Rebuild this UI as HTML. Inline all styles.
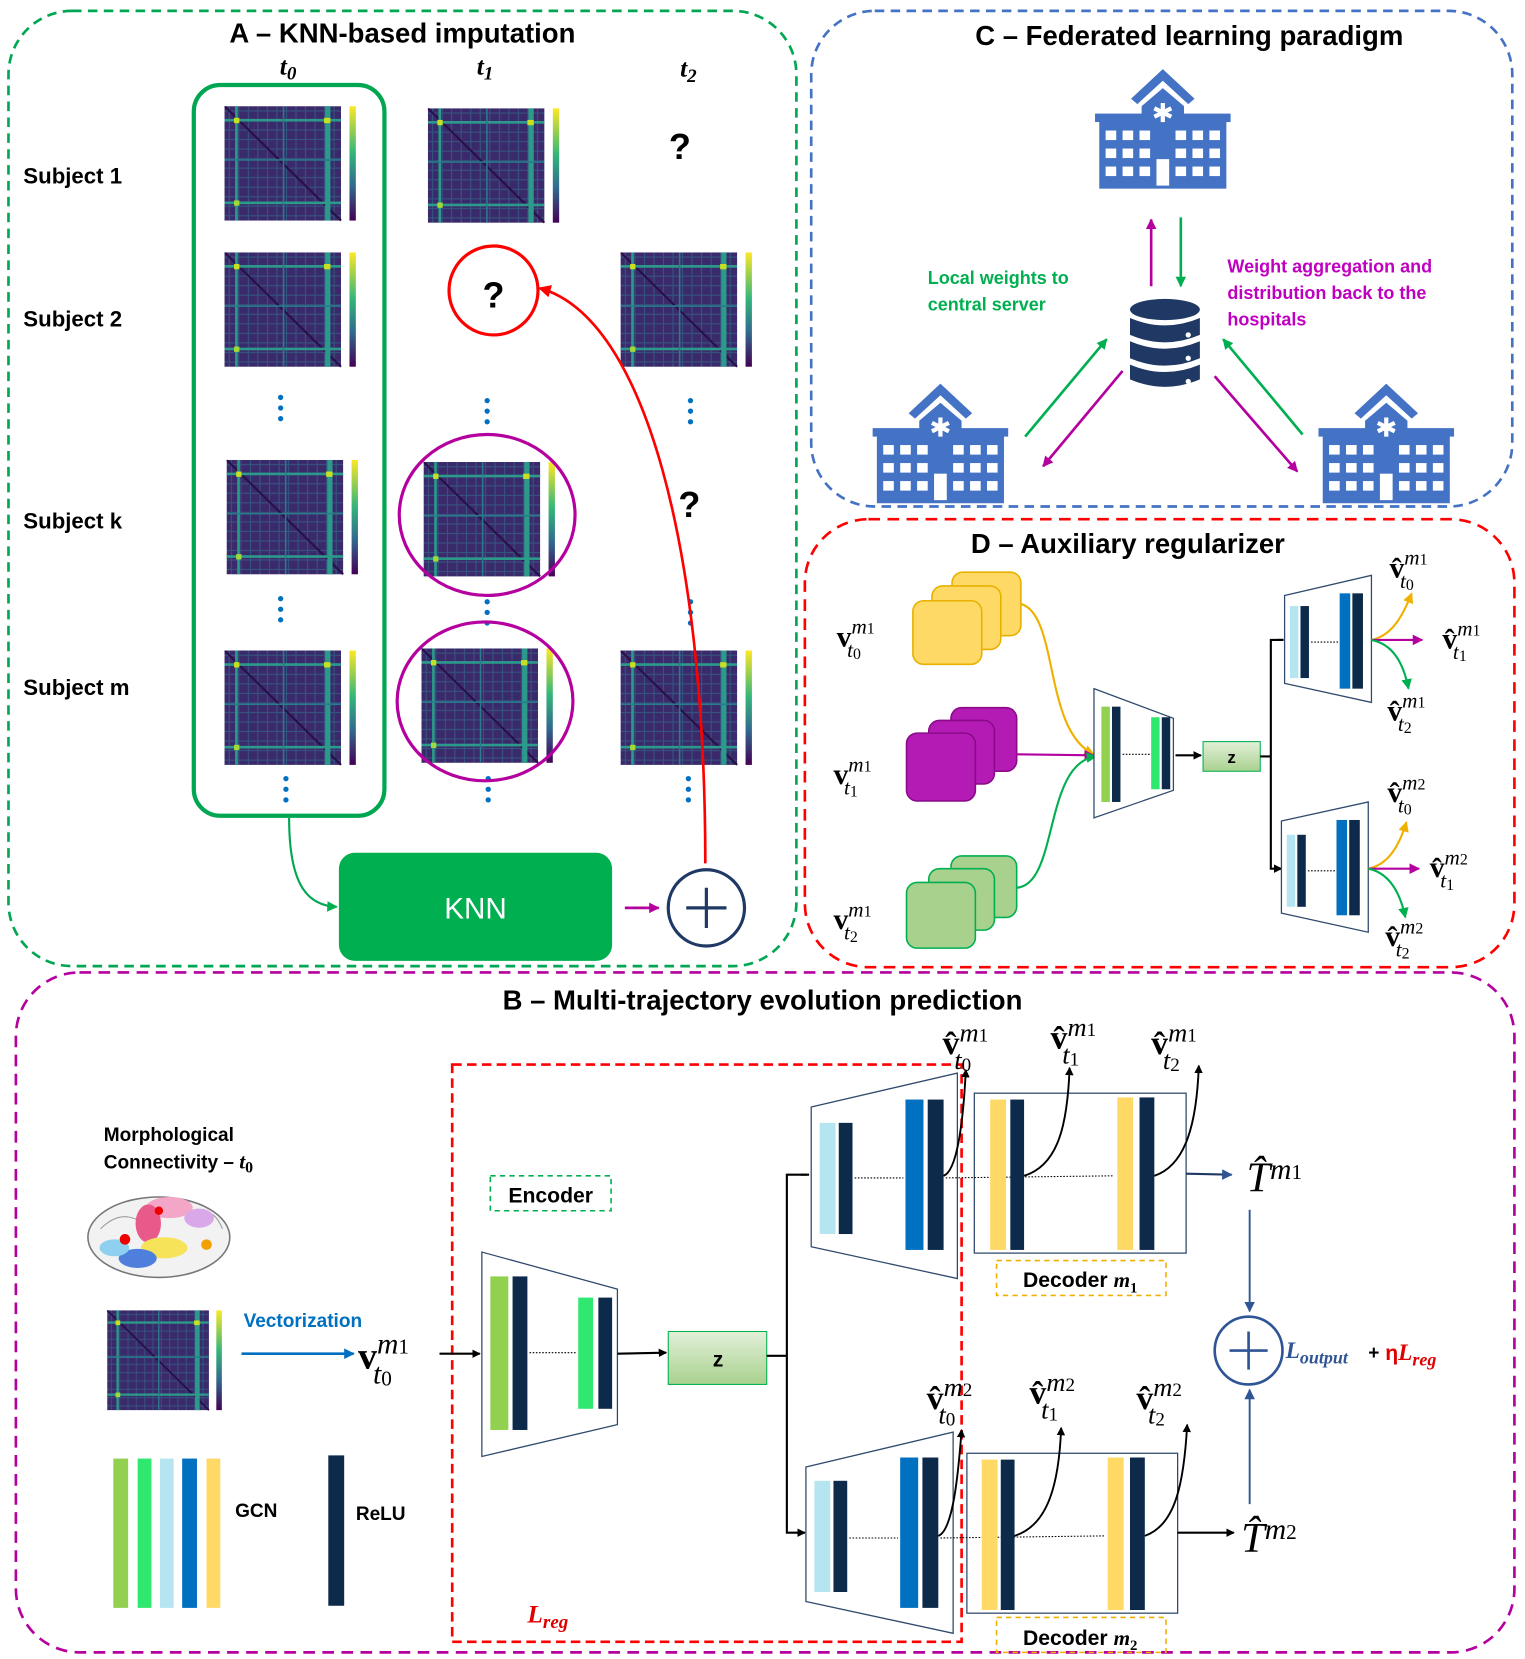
<!DOCTYPE html>
<html><head><meta charset="utf-8"><style>
html,body{margin:0;padding:0;background:#fff;}
svg{display:block;}
.t{font-family:"Liberation Sans",sans-serif;font-weight:bold;}
.m{font-family:"Liberation Serif",serif;}
</style></head><body>
<svg width="1525" height="1659" viewBox="0 0 1440 1566" xmlns="http://www.w3.org/2000/svg">
<defs>
<linearGradient id="vir" x1="0" y1="1" x2="0" y2="0">
<stop offset="0" stop-color="#440154"/><stop offset="0.3" stop-color="#31688e"/><stop offset="0.6" stop-color="#35b779"/><stop offset="1" stop-color="#fde725"/></linearGradient>
<linearGradient id="zg" x1="0" y1="0" x2="0" y2="1"><stop offset="0" stop-color="#e2f0d9"/><stop offset="1" stop-color="#a9d18e"/></linearGradient>
<pattern id="grid" width="9" height="9" patternUnits="userSpaceOnUse">
<rect width="9" height="9" fill="#3b2a6b"/><rect x="0" y="4" width="9" height="1" fill="#34557f"/><rect x="4" y="0" width="1" height="9" fill="#34557f"/></pattern>
<symbol id="hm" viewBox="0 0 130 110">
<rect x="0" y="0" width="110" height="108" fill="url(#grid)"/>
<line x1="0" y1="0" x2="110" y2="108" stroke="#2a0f4a" stroke-width="2"/>
<rect x="0" y="12" width="110" height="2.5" fill="#2c9a8a"/>
<rect x="10" y="0" width="2.5" height="108" fill="#2c9a8a"/>
<rect x="0" y="90" width="110" height="2.5" fill="#2c9a8a"/>
<rect x="95" y="0" width="5" height="108" fill="#2c9a8a"/>
<rect x="0" y="50" width="110" height="1.5" fill="#2a7a8c"/>
<rect x="55" y="0" width="1.5" height="108" fill="#2a7a8c"/>
<rect x="9" y="11" width="5" height="5" fill="#c8e020"/><rect x="94" y="11" width="6" height="5" fill="#c8e020"/><rect x="9" y="89" width="5" height="5" fill="#a0da39"/>
<rect x="118" y="0" width="6" height="108" fill="url(#vir)"/>
</symbol>
<symbol id="hosp" viewBox="0 0 132 113">
<polygon points="66,0 96,28 90,33 66,11 42,33 36,28" fill="#4472c4"/>
<polygon points="46,35 66,18 86,35 86,50 46,50" fill="#4472c4"/>
<rect x="2" y="42" width="128" height="8" fill="#4472c4"/>
<rect x="6" y="48" width="120" height="65" fill="#4472c4"/>
<g fill="#fff">
<rect x="12" y="58" width="10" height="9"/><rect x="28" y="58" width="10" height="9"/><rect x="44" y="58" width="10" height="9"/>
<rect x="78" y="58" width="10" height="9"/><rect x="94" y="58" width="10" height="9"/><rect x="110" y="58" width="10" height="9"/>
<rect x="12" y="75" width="10" height="9"/><rect x="28" y="75" width="10" height="9"/><rect x="44" y="75" width="10" height="9"/>
<rect x="78" y="75" width="10" height="9"/><rect x="94" y="75" width="10" height="9"/><rect x="110" y="75" width="10" height="9"/>
<rect x="12" y="92" width="10" height="9"/><rect x="28" y="92" width="10" height="9"/><rect x="44" y="92" width="10" height="9"/>
<rect x="78" y="92" width="10" height="9"/><rect x="94" y="92" width="10" height="9"/><rect x="110" y="92" width="10" height="9"/>
<rect x="60" y="85" width="12" height="25"/>
<path d="M66,32 v18 M58,37 l16,8 M74,37 l-16,8" stroke="#fff" stroke-width="4"/>
</g>
</symbol>
<marker id="ak" markerWidth="8" markerHeight="8" refX="7" refY="4" orient="auto" markerUnits="userSpaceOnUse"><path d="M0,0 L8,4 L0,8z" fill="#000"/></marker>
<marker id="ag" markerWidth="10" markerHeight="10" refX="9" refY="5" orient="auto" markerUnits="userSpaceOnUse"><path d="M0,0 L10,5 L0,10z" fill="#00b050"/></marker>
<marker id="ap" markerWidth="10" markerHeight="10" refX="9" refY="5" orient="auto" markerUnits="userSpaceOnUse"><path d="M0,0 L10,5 L0,10z" fill="#b4009e"/></marker>
<marker id="ar" markerWidth="12" markerHeight="12" refX="10" refY="6" orient="auto" markerUnits="userSpaceOnUse"><path d="M0,0 L12,6 L0,12z" fill="#f00"/></marker>
<marker id="ay" markerWidth="10" markerHeight="10" refX="9" refY="5" orient="auto" markerUnits="userSpaceOnUse"><path d="M0,0 L10,5 L0,10z" fill="#f0b000"/></marker>
<marker id="ab" markerWidth="10" markerHeight="10" refX="9" refY="5" orient="auto" markerUnits="userSpaceOnUse"><path d="M0,0 L10,5 L0,10z" fill="#0070c0"/></marker>
<marker id="an" markerWidth="10" markerHeight="10" refX="9" refY="5" orient="auto" markerUnits="userSpaceOnUse"><path d="M0,0 L10,5 L0,10z" fill="#2f5597"/></marker>
</defs>

<!-- Panel A -->
<rect x="8" y="10" width="744" height="902" rx="60" fill="none" stroke="#00a651" stroke-width="2.5" stroke-dasharray="9,6"/>
<text x="380" y="40" class="t" font-size="26" text-anchor="middle">A – KNN-based imputation</text>
<g class="m" font-size="24" font-weight="bold" font-style="italic" text-anchor="middle">
<text x="272" y="70">t<tspan font-size="18" dy="5">0</tspan></text>
<text x="458" y="70">t<tspan font-size="18" dy="5">1</tspan></text>
<text x="650" y="72">t<tspan font-size="18" dy="5">2</tspan></text>
</g>
<rect x="183" y="80" width="180" height="690" rx="25" fill="none" stroke="#00a651" stroke-width="4"/>
<g class="t" font-size="21">
<text x="22" y="173">Subject 1</text><text x="22" y="308">Subject 2</text>
<text x="22" y="499">Subject k</text><text x="22" y="656">Subject m</text>
</g>
<use href="#hm" x="212" y="100" width="130" height="110"/>
<use href="#hm" x="404" y="102" width="130" height="110"/>
<use href="#hm" x="212" y="238" width="130" height="110"/>
<use href="#hm" x="586" y="238" width="130" height="110"/>
<use href="#hm" x="214" y="434" width="130" height="110"/>
<use href="#hm" x="400" y="436" width="130" height="110"/>
<use href="#hm" x="212" y="614" width="130" height="110"/>
<use href="#hm" x="398" y="612" width="130" height="110"/>
<use href="#hm" x="586" y="614" width="130" height="110"/>
<g fill="#0070c0">
<circle cx="265" cy="375" r="2.5"/><circle cx="265" cy="385" r="2.5"/><circle cx="265" cy="395" r="2.5"/>
<circle cx="460" cy="378" r="2.5"/><circle cx="460" cy="388" r="2.5"/><circle cx="460" cy="398" r="2.5"/>
<circle cx="652" cy="378" r="2.5"/><circle cx="652" cy="388" r="2.5"/><circle cx="652" cy="398" r="2.5"/>
<circle cx="265" cy="565" r="2.5"/><circle cx="265" cy="575" r="2.5"/><circle cx="265" cy="585" r="2.5"/>
<circle cx="460" cy="568" r="2.5"/><circle cx="460" cy="578" r="2.5"/><circle cx="460" cy="588" r="2.5"/>
<circle cx="652" cy="568" r="2.5"/><circle cx="652" cy="578" r="2.5"/><circle cx="652" cy="588" r="2.5"/>
<circle cx="270" cy="735" r="2.5"/><circle cx="270" cy="745" r="2.5"/><circle cx="270" cy="755" r="2.5"/>
<circle cx="461" cy="735" r="2.5"/><circle cx="461" cy="745" r="2.5"/><circle cx="461" cy="755" r="2.5"/>
<circle cx="650" cy="735" r="2.5"/><circle cx="650" cy="745" r="2.5"/><circle cx="650" cy="755" r="2.5"/>
</g>
<g class="t" font-size="34" text-anchor="middle">
<text x="642" y="150">?</text><text x="466" y="290">?</text><text x="651" y="488">?</text></g>
<circle cx="466" cy="274" r="42" fill="none" stroke="#f00" stroke-width="3"/>
<ellipse cx="460" cy="486" rx="83" ry="76" fill="none" stroke="#b4009e" stroke-width="3"/>
<ellipse cx="458" cy="662" rx="83" ry="75" fill="none" stroke="#b4009e" stroke-width="3"/>
<rect x="320" y="805" width="258" height="102" rx="15" fill="#00b050"/>
<text x="449" y="867" font-family="Liberation Sans,sans-serif" font-size="28" fill="#fff" text-anchor="middle">KNN</text>
<line x1="590" y1="857" x2="622" y2="857" stroke="#b4009e" stroke-width="2.5" marker-end="url(#ap)"/>
<circle cx="667" cy="857" r="36" fill="#fff" stroke="#1f3864" stroke-width="3"/>
<path d="M667,838 v38 M648,857 h38" stroke="#1f3864" stroke-width="3"/>
<path d="M666,815 C666,520 610,300 510,272" fill="none" stroke="#f00" stroke-width="2.5" marker-end="url(#ar)"/>
<path d="M273,772 C273,835 290,855 318,856" fill="none" stroke="#00a651" stroke-width="2" marker-end="url(#ag)"/>

<!-- Panel C -->
<rect x="766" y="10" width="662" height="468" rx="60" fill="none" stroke="#4472c4" stroke-width="2.5" stroke-dasharray="9,6"/>
<text x="1123" y="42" class="t" font-size="26" text-anchor="middle">C – Federated learning paradigm</text>
<use href="#hosp" x="1032" y="65" width="132" height="113"/>
<use href="#hosp" x="822" y="362" width="132" height="113"/>
<use href="#hosp" x="1243" y="362" width="132" height="113"/>
<g fill="#1f3864">
<ellipse cx="1100" cy="292" rx="33" ry="10"/>
<path d="M1067,300 q33,14 66,0 v16 q-33,14 -66,0z"/>
<path d="M1067,322 q33,14 66,0 v16 q-33,14 -66,0z"/>
<path d="M1067,344 q33,14 66,0 v14 q-33,14 -66,0z"/>
</g>
<g fill="#fff"><circle cx="1122" cy="316" r="2.5"/><circle cx="1122" cy="338" r="2.5"/><circle cx="1122" cy="360" r="2.5"/></g>
<line x1="1087" y1="270" x2="1087" y2="207" stroke="#b4009e" stroke-width="2.5" marker-end="url(#ap)"/>
<line x1="1115" y1="205" x2="1115" y2="270" stroke="#00b050" stroke-width="2.5" marker-end="url(#ag)"/>
<line x1="968" y1="412" x2="1045" y2="320" stroke="#00b050" stroke-width="2.5" marker-end="url(#ag)"/>
<line x1="1060" y1="350" x2="985" y2="440" stroke="#b4009e" stroke-width="2.5" marker-end="url(#ap)"/>
<line x1="1230" y1="410" x2="1155" y2="320" stroke="#00b050" stroke-width="2.5" marker-end="url(#ag)"/>
<line x1="1147" y1="355" x2="1225" y2="445" stroke="#b4009e" stroke-width="2.5" marker-end="url(#ap)"/>
<g class="t" font-size="17" fill="#00b050"><text x="876" y="268">Local weights to</text><text x="876" y="293">central server</text></g>
<g class="t" font-size="17" fill="#c000c0"><text x="1159" y="257">Weight aggregation and</text><text x="1159" y="282">distribution back to the</text><text x="1159" y="307">hospitals</text></g>

<!-- Panel D -->
<rect x="760" y="490" width="670" height="423" rx="60" fill="none" stroke="#f00" stroke-width="2.5" stroke-dasharray="11,7"/>
<text x="1065" y="522" class="t" font-size="26" text-anchor="middle">D – Auxiliary regularizer</text>
<g stroke-width="1.5">
<rect x="899" y="540" width="65" height="60" rx="10" fill="#ffd966" stroke="#e8b100"/>
<rect x="880" y="553" width="65" height="60" rx="10" fill="#ffd966" stroke="#e8b100"/>
<rect x="862" y="567" width="65" height="60" rx="10" fill="#ffd966" stroke="#e8b100"/>
<rect x="898" y="668" width="62" height="60" rx="10" fill="#b41bb4" stroke="#8a0a8a"/>
<rect x="877" y="680" width="62" height="60" rx="10" fill="#b41bb4" stroke="#8a0a8a"/>
<rect x="856" y="692" width="65" height="64" rx="10" fill="#b41bb4" stroke="#8a0a8a"/>
<rect x="898" y="808" width="62" height="58" rx="10" fill="#a9d18e" stroke="#00b050"/>
<rect x="877" y="820" width="62" height="58" rx="10" fill="#a9d18e" stroke="#00b050"/>
<rect x="856" y="833" width="65" height="62" rx="10" fill="#a9d18e" stroke="#00b050"/>
</g>
<path d="M964,570 C1000,580 985,690 1033,712" fill="none" stroke="#f0b000" stroke-width="2" marker-end="url(#ay)"/>
<line x1="960" y1="712" x2="1033" y2="713" stroke="#b4009e" stroke-width="2" marker-end="url(#ap)"/>
<path d="M960,838 C1000,835 985,720 1035,714" fill="none" stroke="#00b050" stroke-width="2" marker-end="url(#ag)"/>
<polygon points="1033,650 1108,678 1108,746 1033,772" fill="#fff" stroke="#2f4a6e" stroke-width="1.2"/>
<rect x="1040" y="667" width="8" height="90" fill="#92d050"/><rect x="1050" y="667" width="8" height="90" fill="#0d2a4a"/>
<line x1="1060" y1="712" x2="1086" y2="712" stroke="#000" stroke-dasharray="1.5,1.5"/>
<rect x="1087" y="677" width="8" height="68" fill="#2ee86f"/><rect x="1097" y="677" width="8" height="68" fill="#0d2a4a"/>
<line x1="1110" y1="713" x2="1134" y2="713" stroke="#000" stroke-width="2" marker-end="url(#ak)"/>
<rect x="1136" y="700" width="54" height="28" fill="url(#zg)" stroke="#00b050"/>
<text x="1163" y="720" class="t" font-size="16" text-anchor="middle">z</text>
<path d="M1190,714 H1200 V604 H1212 M1200,714 V820 H1210" fill="none" stroke="#000" stroke-width="2"/>
<path d="M1206,604 h6 M1204,820 h6" stroke="#000" stroke-width="2" marker-end="url(#ak)"/>
<polygon points="1213,562 1295,543 1295,663 1213,645" fill="#fff" stroke="#2f4a6e" stroke-width="1.2"/>
<rect x="1218" y="572" width="8" height="68" fill="#b4e5f0"/><rect x="1228" y="572" width="8" height="68" fill="#0d2a4a"/>
<line x1="1238" y1="606" x2="1264" y2="606" stroke="#000" stroke-dasharray="1.5,1.5"/>
<rect x="1265" y="560" width="10" height="90" fill="#0070c0"/><rect x="1277" y="560" width="10" height="90" fill="#0d2a4a"/>
<polygon points="1210,775 1292,757 1292,880 1210,862" fill="#fff" stroke="#2f4a6e" stroke-width="1.2"/>
<rect x="1215" y="788" width="8" height="68" fill="#b4e5f0"/><rect x="1225" y="788" width="8" height="68" fill="#0d2a4a"/>
<line x1="1235" y1="822" x2="1261" y2="822" stroke="#000" stroke-dasharray="1.5,1.5"/>
<rect x="1262" y="774" width="10" height="90" fill="#0070c0"/><rect x="1274" y="774" width="10" height="90" fill="#0d2a4a"/>
<path d="M1295,604 C1315,600 1325,580 1333,560" fill="none" stroke="#f0b000" stroke-width="2" marker-end="url(#ay)"/>
<line x1="1295" y1="604" x2="1343" y2="604" stroke="#b4009e" stroke-width="2" marker-end="url(#ap)"/>
<path d="M1295,604 C1315,608 1325,625 1330,650" fill="none" stroke="#00b050" stroke-width="2" marker-end="url(#ag)"/>
<path d="M1292,820 C1312,816 1322,796 1328,776" fill="none" stroke="#f0b000" stroke-width="2" marker-end="url(#ay)"/>
<line x1="1292" y1="820" x2="1340" y2="820" stroke="#b4009e" stroke-width="2" marker-end="url(#ap)"/>
<path d="M1292,820 C1312,824 1322,842 1327,866" fill="none" stroke="#00b050" stroke-width="2" marker-end="url(#ag)"/>
<g class="m" font-size="28" font-weight="bold">
<text x="790" y="610">v<tspan font-size="20" font-weight="normal" font-style="italic" dy="-12">m</tspan><tspan font-size="15" font-weight="normal" dy="0">1</tspan><tspan font-size="20" font-weight="normal" font-style="italic" dx="-26" dy="22">t</tspan><tspan font-size="15" font-weight="normal" dy="2">0</tspan></text>
<text x="787" y="740">v<tspan font-size="20" font-weight="normal" font-style="italic" dy="-12">m</tspan><tspan font-size="15" font-weight="normal">1</tspan><tspan font-size="20" font-weight="normal" font-style="italic" dx="-26" dy="22">t</tspan><tspan font-size="15" font-weight="normal" dy="2">1</tspan></text>
<text x="787" y="877">v<tspan font-size="20" font-weight="normal" font-style="italic" dy="-12">m</tspan><tspan font-size="15" font-weight="normal">1</tspan><tspan font-size="20" font-weight="normal" font-style="italic" dx="-26" dy="22">t</tspan><tspan font-size="15" font-weight="normal" dy="2">2</tspan></text>
<text x="1312" y="545">v̂<tspan font-size="20" font-weight="normal" font-style="italic" dy="-12">m</tspan><tspan font-size="15" font-weight="normal">1</tspan><tspan font-size="20" font-weight="normal" font-style="italic" dx="-26" dy="22">t</tspan><tspan font-size="15" font-weight="normal" dy="2">0</tspan></text>
<text x="1362" y="612">v̂<tspan font-size="20" font-weight="normal" font-style="italic" dy="-12">m</tspan><tspan font-size="15" font-weight="normal">1</tspan><tspan font-size="20" font-weight="normal" font-style="italic" dx="-26" dy="22">t</tspan><tspan font-size="15" font-weight="normal" dy="2">1</tspan></text>
<text x="1310" y="680">v̂<tspan font-size="20" font-weight="normal" font-style="italic" dy="-12">m</tspan><tspan font-size="15" font-weight="normal">1</tspan><tspan font-size="20" font-weight="normal" font-style="italic" dx="-26" dy="22">t</tspan><tspan font-size="15" font-weight="normal" dy="2">2</tspan></text>
<text x="1310" y="757">v̂<tspan font-size="20" font-weight="normal" font-style="italic" dy="-12">m</tspan><tspan font-size="15" font-weight="normal">2</tspan><tspan font-size="20" font-weight="normal" font-style="italic" dx="-26" dy="22">t</tspan><tspan font-size="15" font-weight="normal" dy="2">0</tspan></text>
<text x="1350" y="828">v̂<tspan font-size="20" font-weight="normal" font-style="italic" dy="-12">m</tspan><tspan font-size="15" font-weight="normal">2</tspan><tspan font-size="20" font-weight="normal" font-style="italic" dx="-26" dy="22">t</tspan><tspan font-size="15" font-weight="normal" dy="2">1</tspan></text>
<text x="1308" y="893">v̂<tspan font-size="20" font-weight="normal" font-style="italic" dy="-12">m</tspan><tspan font-size="15" font-weight="normal">2</tspan><tspan font-size="20" font-weight="normal" font-style="italic" dx="-26" dy="22">t</tspan><tspan font-size="15" font-weight="normal" dy="2">2</tspan></text>
</g>

<!-- Panel B -->
<rect x="15" y="918" width="1415" height="642" rx="60" fill="none" stroke="#b4009e" stroke-width="2.5" stroke-dasharray="11,7"/>
<text x="720" y="953" class="t" font-size="26" text-anchor="middle">B – Multi-trajectory evolution prediction</text>
<rect x="427" y="1005" width="481" height="545" fill="none" stroke="#f00" stroke-width="2.5" stroke-dasharray="9,5"/>
<rect x="463" y="1110" width="114" height="33" fill="none" stroke="#00b050" stroke-width="1.5" stroke-dasharray="5,4"/>
<text x="520" y="1135" class="t" font-size="20" text-anchor="middle">Encoder</text>
<g class="t" font-size="18"><text x="98" y="1077">Morphological</text><text x="98" y="1103">Connectivity – <tspan class="m" font-style="italic" font-size="20">t</tspan><tspan class="m" font-size="15" dy="4">0</tspan></text></g>
<!-- brain -->
<g>
<ellipse cx="150" cy="1168" rx="67" ry="38" fill="#f2f2f2" stroke="#777" stroke-width="1.5"/>
<path d="M95,1160 q20,-20 40,-5 q20,-25 45,-5 q20,-15 30,10" fill="none" stroke="#999"/>
<ellipse cx="160" cy="1140" rx="22" ry="10" fill="#f4a6c8"/>
<ellipse cx="140" cy="1155" rx="12" ry="18" fill="#e85a8a"/>
<ellipse cx="155" cy="1178" rx="22" ry="10" fill="#f6e35a"/>
<ellipse cx="130" cy="1188" rx="18" ry="9" fill="#4f7fdc"/>
<ellipse cx="108" cy="1178" rx="14" ry="8" fill="#8fd0f0"/>
<ellipse cx="188" cy="1150" rx="14" ry="9" fill="#d8a8e8"/>
<circle cx="118" cy="1170" r="5" fill="#e00"/><circle cx="150" cy="1143" r="4" fill="#e00"/>
<circle cx="195" cy="1175" r="5" fill="#f0a000"/>
</g>
<use href="#hm" x="98" y="1237" width="120" height="96"/>
<text x="230" y="1253" class="t" font-size="18" fill="#0070c0">Vectorization</text>
<line x1="228" y1="1278" x2="334" y2="1278" stroke="#0070c0" stroke-width="2.5" marker-end="url(#ab)"/>
<text x="338" y="1292" class="m" font-size="36" font-weight="bold">v<tspan font-size="28" font-weight="normal" font-style="italic" dy="-14">m</tspan><tspan font-size="20" font-weight="normal">1</tspan><tspan font-size="28" font-weight="normal" font-style="italic" dx="-34" dy="28">t</tspan><tspan font-size="20" font-weight="normal" dy="2">0</tspan></text>
<line x1="415" y1="1278" x2="453" y2="1278" stroke="#000" stroke-width="2" marker-end="url(#ak)"/>
<rect x="107" y="1377" width="14" height="141" fill="#92d050"/>
<rect x="130" y="1377" width="13" height="141" fill="#2ee86f"/>
<rect x="151" y="1377" width="13" height="141" fill="#b4e5f0"/>
<rect x="172" y="1377" width="14" height="141" fill="#0070c0"/>
<rect x="195" y="1377" width="13" height="141" fill="#ffd966"/>
<text x="222" y="1432" class="t" font-size="18">GCN</text>
<rect x="310" y="1374" width="15" height="142" fill="#0d2a4a"/>
<text x="336" y="1435" class="t" font-size="18">ReLU</text>
<text x="498" y="1532" class="m" font-size="24" font-weight="bold" font-style="italic" fill="#e00000">L<tspan font-size="18" dy="5">reg</tspan></text>
<!-- encoder -->
<polygon points="455,1182 583,1217 583,1345 455,1375" fill="#fff" stroke="#2f4a6e" stroke-width="1.2"/>
<rect x="463" y="1205" width="17" height="145" fill="#92d050"/><rect x="484" y="1205" width="14" height="145" fill="#0d2a4a"/>
<line x1="500" y1="1277" x2="544" y2="1277" stroke="#000" stroke-dasharray="1.5,1.5"/>
<rect x="546" y="1225" width="14" height="105" fill="#2ee86f"/><rect x="565" y="1225" width="13" height="105" fill="#0d2a4a"/>
<line x1="583" y1="1278" x2="629" y2="1277" stroke="#000" stroke-width="2" marker-end="url(#ak)"/>
<rect x="631" y="1257" width="93" height="50" fill="url(#zg)" stroke="#00b050"/>
<text x="678" y="1290" class="t" font-size="20" text-anchor="middle">z</text>
<path d="M724,1280 H743 V1109 H762 M743,1280 V1447 H758" fill="none" stroke="#000" stroke-width="2"/>
<path d="M756,1109 h8 M752,1447 h8" stroke="#000" stroke-width="2" marker-end="url(#ak)"/>
<!-- decoder 1 -->
<polygon points="766,1045 904,1013 904,1207 766,1177" fill="#fff" stroke="#2f4a6e" stroke-width="1.2"/>
<rect x="774" y="1060" width="15" height="105" fill="#b4e5f0"/><rect x="792" y="1060" width="13" height="105" fill="#0d2a4a"/>
<line x1="807" y1="1112" x2="853" y2="1112" stroke="#000" stroke-dasharray="1.5,1.5"/>
<rect x="855" y="1038" width="17" height="142" fill="#0070c0"/><rect x="876" y="1038" width="15" height="142" fill="#0d2a4a"/>
<rect x="920" y="1032" width="200" height="151" fill="#fff" stroke="#2f4a6e" stroke-width="1.2"/>
<line x1="893" y1="1112" x2="1052" y2="1110" stroke="#000" stroke-dasharray="1.5,1.5"/>
<rect x="935" y="1038" width="15" height="142" fill="#ffd966"/><rect x="954" y="1038" width="13" height="142" fill="#0d2a4a"/>
<rect x="1055" y="1036" width="15" height="144" fill="#ffd966"/><rect x="1076" y="1036" width="14" height="144" fill="#0d2a4a"/>
<path d="M891,1110 C905,1105 910,1050 912,1010" fill="none" stroke="#000" stroke-width="1.8" marker-end="url(#ak)"/>
<path d="M967,1110 C1000,1100 1008,1060 1010,1008" fill="none" stroke="#000" stroke-width="1.8" marker-end="url(#ak)"/>
<path d="M1090,1110 C1120,1100 1130,1060 1132,1006" fill="none" stroke="#000" stroke-width="1.8" marker-end="url(#ak)"/>
<line x1="1120" y1="1108" x2="1163" y2="1109" stroke="#1f3864" stroke-width="2" marker-end="url(#an)"/>
<rect x="941" y="1190" width="160" height="33" fill="none" stroke="#f0b000" stroke-width="1.5" stroke-dasharray="5,4"/>
<text x="1020" y="1215" class="t" font-size="20" text-anchor="middle">Decoder <tspan class="m" font-style="italic">m</tspan><tspan class="m" font-size="14" dy="5">1</tspan></text>
<!-- decoder 2 -->
<polygon points="761,1385 900,1352 900,1542 761,1512" fill="#fff" stroke="#2f4a6e" stroke-width="1.2"/>
<rect x="769" y="1398" width="15" height="105" fill="#b4e5f0"/><rect x="787" y="1398" width="13" height="105" fill="#0d2a4a"/>
<line x1="802" y1="1452" x2="848" y2="1452" stroke="#000" stroke-dasharray="1.5,1.5"/>
<rect x="850" y="1376" width="17" height="142" fill="#0070c0"/><rect x="871" y="1376" width="15" height="142" fill="#0d2a4a"/>
<rect x="913" y="1372" width="199" height="151" fill="#fff" stroke="#2f4a6e" stroke-width="1.2"/>
<line x1="888" y1="1452" x2="1044" y2="1450" stroke="#000" stroke-dasharray="1.5,1.5"/>
<rect x="927" y="1378" width="15" height="142" fill="#ffd966"/><rect x="945" y="1378" width="13" height="142" fill="#0d2a4a"/>
<rect x="1046" y="1376" width="15" height="144" fill="#ffd966"/><rect x="1067" y="1376" width="14" height="144" fill="#0d2a4a"/>
<path d="M886,1450 C900,1445 905,1390 908,1350" fill="none" stroke="#000" stroke-width="1.8" marker-end="url(#ak)"/>
<path d="M958,1450 C990,1440 1000,1400 1002,1348" fill="none" stroke="#000" stroke-width="1.8" marker-end="url(#ak)"/>
<path d="M1081,1450 C1110,1440 1118,1400 1121,1345" fill="none" stroke="#000" stroke-width="1.8" marker-end="url(#ak)"/>
<line x1="1112" y1="1447" x2="1165" y2="1447" stroke="#000" stroke-width="2" marker-end="url(#ak)"/>
<rect x="941" y="1527" width="160" height="33" fill="none" stroke="#f0b000" stroke-width="1.5" stroke-dasharray="5,4"/>
<text x="1020" y="1553" class="t" font-size="20" text-anchor="middle">Decoder <tspan class="m" font-style="italic">m</tspan><tspan class="m" font-size="14" dy="5">2</tspan></text>
<!-- outputs -->
<g class="m" font-size="32" font-weight="bold">
<text x="890" y="995">v̂<tspan font-size="25" font-weight="normal" font-style="italic" dy="-12">m</tspan><tspan font-size="18" font-weight="normal">1</tspan><tspan font-size="25" font-weight="normal" font-style="italic" dx="-32" dy="26">t</tspan><tspan font-size="18" font-weight="normal" dy="2">0</tspan></text>
<text x="992" y="990">v̂<tspan font-size="25" font-weight="normal" font-style="italic" dy="-12">m</tspan><tspan font-size="18" font-weight="normal">1</tspan><tspan font-size="25" font-weight="normal" font-style="italic" dx="-32" dy="26">t</tspan><tspan font-size="18" font-weight="normal" dy="2">1</tspan></text>
<text x="1087" y="995">v̂<tspan font-size="25" font-weight="normal" font-style="italic" dy="-12">m</tspan><tspan font-size="18" font-weight="normal">1</tspan><tspan font-size="25" font-weight="normal" font-style="italic" dx="-32" dy="26">t</tspan><tspan font-size="18" font-weight="normal" dy="2">2</tspan></text>
<text x="875" y="1330">v̂<tspan font-size="25" font-weight="normal" font-style="italic" dy="-12">m</tspan><tspan font-size="18" font-weight="normal">2</tspan><tspan font-size="25" font-weight="normal" font-style="italic" dx="-32" dy="26">t</tspan><tspan font-size="18" font-weight="normal" dy="2">0</tspan></text>
<text x="972" y="1325">v̂<tspan font-size="25" font-weight="normal" font-style="italic" dy="-12">m</tspan><tspan font-size="18" font-weight="normal">2</tspan><tspan font-size="25" font-weight="normal" font-style="italic" dx="-32" dy="26">t</tspan><tspan font-size="18" font-weight="normal" dy="2">1</tspan></text>
<text x="1073" y="1330">v̂<tspan font-size="25" font-weight="normal" font-style="italic" dy="-12">m</tspan><tspan font-size="18" font-weight="normal">2</tspan><tspan font-size="25" font-weight="normal" font-style="italic" dx="-32" dy="26">t</tspan><tspan font-size="18" font-weight="normal" dy="2">2</tspan></text>
</g>
<g class="m" font-size="40" font-style="italic">
<text x="1177" y="1125">T̂<tspan font-size="28" dy="-12">m</tspan><tspan font-size="20" font-style="normal">1</tspan></text>
<text x="1172" y="1465">T̂<tspan font-size="28" dy="-12">m</tspan><tspan font-size="20" font-style="normal">2</tspan></text>
</g>
<line x1="1180" y1="1142" x2="1180" y2="1238" stroke="#2f5597" stroke-width="1.8" marker-end="url(#an)"/>
<line x1="1180" y1="1420" x2="1180" y2="1312" stroke="#2f5597" stroke-width="1.8" marker-end="url(#an)"/>
<circle cx="1179" cy="1275" r="32" fill="#fff" stroke="#2f5597" stroke-width="2.5"/>
<path d="M1179,1257 v36 M1161,1275 h36" stroke="#2f5597" stroke-width="2.5"/>
<text x="1214" y="1282" class="m" font-size="22" font-style="italic" font-weight="bold" fill="#2f5597">L<tspan font-size="17" dy="5">output</tspan></text>
<text x="1292" y="1283" class="t" font-size="18">+</text>
<text x="1308" y="1284" font-family="Liberation Sans,sans-serif" font-size="20" font-weight="bold" fill="#e00000">η<tspan class="m" font-style="italic" font-size="22">L</tspan><tspan class="m" font-style="italic" font-size="17" dy="5">reg</tspan></text>
</svg>
</body></html>
